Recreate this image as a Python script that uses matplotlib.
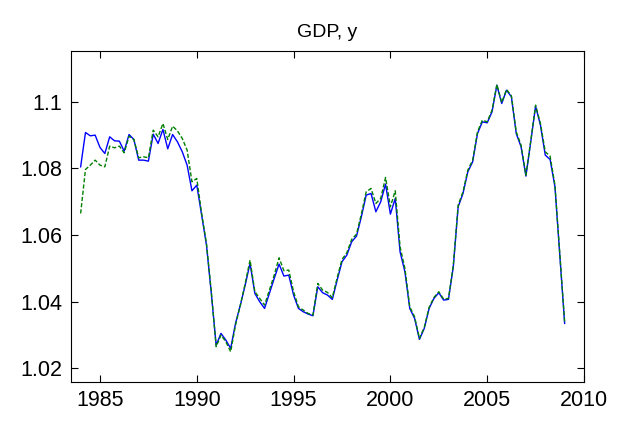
import numpy as np
import matplotlib
matplotlib.use('Agg')
import matplotlib.pyplot as plt

plt.rcParams['font.family'] = ['Liberation Sans', 'DejaVu Sans']

# quarterly, 1984Q1 .. 2009Q1
years = np.arange(1984.0, 2009.01, 0.25)

gdp_blue = [
    1.0805, 1.0908, 1.0898, 1.0900, 1.0863, 1.0845, 1.0895, 1.0883,
    1.0882, 1.0852, 1.0902, 1.0887, 1.0825, 1.0825, 1.0822, 1.0903,
    1.0875, 1.0917, 1.0859, 1.0902, 1.0880, 1.0850, 1.0810, 1.0733,
    1.0750, 1.0660, 1.0570, 1.0425, 1.0270, 1.0305, 1.0285, 1.0260,
    1.0335, 1.0390, 1.0450, 1.0515, 1.0425, 1.0400, 1.0380, 1.0425,
    1.0470, 1.0513, 1.0477, 1.0480, 1.0420, 1.0380, 1.0370, 1.0363,
    1.0358, 1.0445, 1.0427, 1.0420, 1.0407, 1.0465, 1.0520, 1.0540,
    1.0580, 1.0597, 1.0655, 1.0720, 1.0725, 1.0670, 1.0700, 1.0753,
    1.0663, 1.0710, 1.0550, 1.0490, 1.0380, 1.0350, 1.0287, 1.0320,
    1.0380, 1.0410, 1.0427, 1.0405, 1.0407, 1.0505, 1.0685, 1.0725,
    1.0790, 1.0820, 1.0905, 1.0940, 1.0937, 1.0970, 1.1050, 1.0995,
    1.1035, 1.1015, 1.0905, 1.0865, 1.0777, 1.0880, 1.0987, 1.0930,
    1.0840, 1.0827, 1.0745, 1.0540, 1.0335,
]

gdp_green = [
    1.0665, 1.0797, 1.0810, 1.0825, 1.0810, 1.0805, 1.0867, 1.0862,
    1.0867, 1.0847, 1.0897, 1.0887, 1.0832, 1.0835, 1.0832, 1.0915,
    1.0895, 1.0935, 1.0887, 1.0927, 1.0913, 1.0890, 1.0855, 1.0760,
    1.0770, 1.0665, 1.0575, 1.0430, 1.0265, 1.0300, 1.0280, 1.0250,
    1.0330, 1.0390, 1.0455, 1.0525, 1.0430, 1.0410, 1.0390, 1.0435,
    1.0480, 1.0532, 1.0493, 1.0495, 1.0430, 1.0385, 1.0375, 1.0365,
    1.0360, 1.0455, 1.0435, 1.0428, 1.0412, 1.0472, 1.0527, 1.0547,
    1.0587, 1.0603, 1.0663, 1.0730, 1.0740, 1.0695, 1.0710, 1.0773,
    1.0685, 1.0733, 1.0565, 1.0500, 1.0385, 1.0355, 1.0290, 1.0323,
    1.0383, 1.0413, 1.0430, 1.0408, 1.0410, 1.0510, 1.0690, 1.0730,
    1.0795, 1.0825, 1.0910, 1.0945, 1.0940, 1.0975, 1.1052, 1.0998,
    1.1037, 1.1018, 1.0910, 1.0870, 1.0780, 1.0883, 1.0990, 1.0935,
    1.0850, 1.0837, 1.0750, 1.0545, 1.0340,
]

xticks = [1985, 1990, 1995, 2000, 2005, 2010]
yticks = [1.02, 1.04, 1.06, 1.08, 1.1]
yticklabels = ['1.02', '1.04', '1.06', '1.08', '1.1']

fig = plt.figure(figsize=(6.17, 4.23), dpi=100)
ax = fig.add_axes([0.115, 0.0976, 0.8315, 0.7814])
ax.plot(years, gdp_blue, '-', color='#0000ff', lw=1.0)
ax.plot(years, gdp_green, '--', color='#008000', lw=1.0, dashes=(3, 1.5))

ax.set_xlim(1983.5, 2010)
ax.set_ylim(1.016, 1.1152)
ax.set_xticks(xticks)
ax.set_yticks(yticks)
ax.set_yticklabels(yticklabels)
ax.tick_params(direction='in', top=True, right=True, labelsize=15.5,
               length=5, width=0.8, pad=6)
for s in ax.spines.values():
    s.set_linewidth(0.8)
ax.set_title('GDP, y', fontsize=14, pad=10)

fig.savefig('out.png', dpi=100)
